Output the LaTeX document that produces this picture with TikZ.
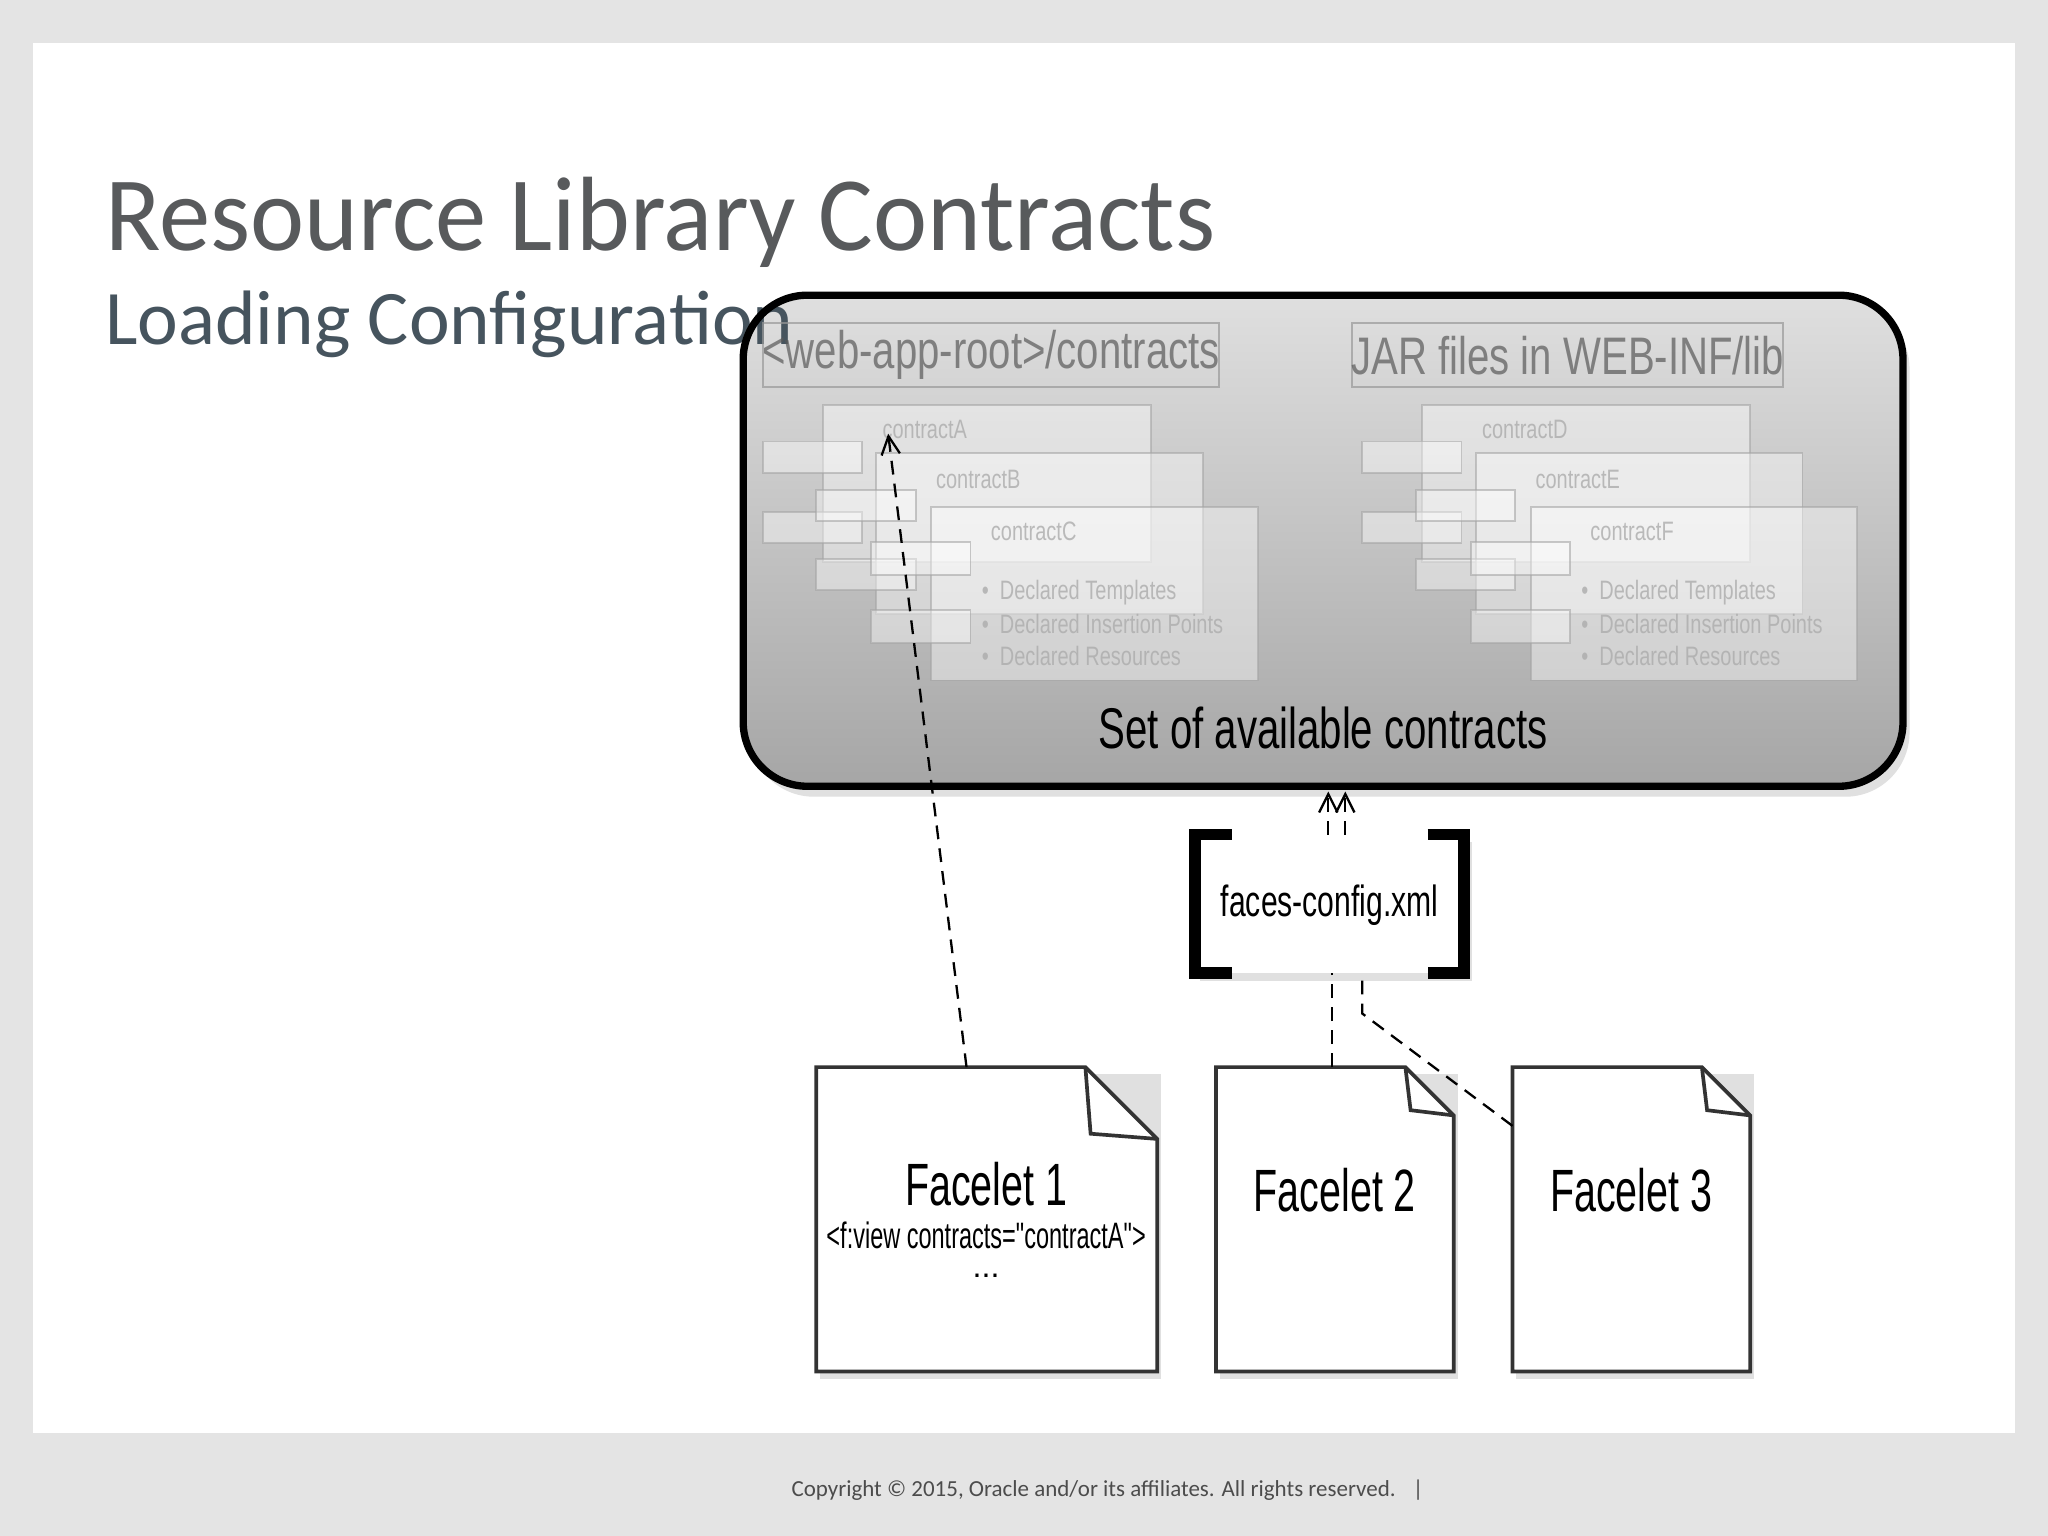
\documentclass[tikz,border=0pt]{standalone}
\usepackage{fontspec}
\usetikzlibrary{arrows.meta}
\setmainfont{Carlito}
\newfontfamily\ar{Liberation Sans}
\newcommand{\nar}[2][0.75]{\scalebox{#1}[1]{#2}}
\definecolor{subc}{RGB}{70,84,94}
\definecolor{titc}{RGB}{88,90,92}
\begin{document}
\begin{tikzpicture}[x=0.01cm,y=-0.01cm,
  comp/.style={draw=gray!70,fill=white,fill opacity=0.4,draw opacity=0.6},
  small/.style={draw=gray!70,fill=white,fill opacity=0.4,draw opacity=0.6},
  ctxt/.style={text=gray!65,text opacity=0.8,font=\ar\fontsize{5.8pt}{6pt}\selectfont,anchor=west,inner sep=0},
  doc/.style={draw=black!80,fill=white,line width=0.8pt},
  dsh/.style={line width=0.5pt,dash pattern=on 3pt off 2pt},
  arr/.style={dsh,-{Straight Barb[length=4pt,width=4pt]}}]
\useasboundingbox (0,0) rectangle (1568,1176);
\fill[black!5!gray!20] (0,0) rectangle (1568,1176);
\fill[white] (25,33) rectangle (1543,1097);
\node[anchor=base west,text=titc,font=\fontsize{23pt}{26pt}\selectfont,inner sep=0] (t) at (80,192) {\scalebox{0.97}[1]{Resource Library Contracts}};
\node[text=black!70,font=\fontsize{5pt}{6pt}\selectfont,inner sep=0] (cp) at (848,1141) {Copyright © 2015, Oracle and/or its affiliates. All rights reserved. \ \ |};
% main box
\fill[black!12,rounded corners=14pt] (574,233) rectangle (1462,610);
\shade[top color=gray!25,bottom color=gray!70,rounded corners=14pt] (569,226) rectangle (1457,602);
\node[anchor=base west,text=subc,font=\fontsize{16.8pt}{21pt}\selectfont,inner sep=0] (st) at (80,264) {Loading Configuration};
\draw[line width=1.6pt,rounded corners=14pt] (569,226) rectangle (1457,602);
\foreach \dx/\a/\b/\c/\hd/\hx/\hw in {0/A/B/C/{<web-app-root>/contracts}/584/349, 459/D/E/F/{JAR files in WEB-INF/lib}/1035/330}{
  \draw[draw=gray!80,draw opacity=0.7] (\hx,247) rectangle +(\hw,49);
  \node[anchor=west,inner sep=0,text=gray!70!black,text opacity=0.7,font=\ar\fontsize{11.5pt}{13pt}\selectfont] at (\hx-1,272) {\nar[0.76]{\hd}};
  \begin{scope}[xshift=\dx*0.01cm]
  \draw[comp] (630,310) rectangle (881,430);
  \node[ctxt] at (675,329) {\nar{contract\a}};
  \draw[small] (584,338) rectangle (660,362);
  \draw[small] (584,392) rectangle (660,416);
  \draw[comp] (671,347) rectangle (921,470);
  \node[ctxt] at (716,367) {\nar{contract\b}};
  \draw[small] (625,375) rectangle (701,399);
  \draw[small] (625,428) rectangle (701,452);
  \draw[comp] (713,388) rectangle (963,521);
  \node[ctxt] at (758,407) {\nar{contract\c}};
  \draw[small] (667,415) rectangle (743,440);
  \draw[small] (667,467) rectangle (743,492);
  \foreach \y/\t in {454/Declared Templates,478/Declared Insertion Points,502/Declared Resources}
    \node[ctxt] at (751,\y) {\nar{\textbullet\ \ \t}};
  \end{scope}}
\coordinate (cA) at (680,332);
\node[font=\ar\fontsize{12.5pt}{14pt}\selectfont] (set) at (1013,557) {\nar[0.70]{Set of available contracts}};
% faces-config
\fill[black!12] (919,645) rectangle (1127,751);
\fill[white] (915,639) rectangle (1121,745);
\draw[line width=2.5pt] (943,639) -- (915,639) -- (915,745) -- (943,745);
\draw[line width=2.5pt] (1093,639) -- (1121,639) -- (1121,745) -- (1093,745);
\node[font=\ar\fontsize{9.5pt}{10pt}\selectfont] (fct) at (1018,693) {\nar[0.69]{faces-config.xml}};
% facelets
\foreach \n/\xa/\xb/\c in {1/625/886/55,2/931/1113/37,3/1158/1340/37}{
  \fill[black!12] (\xa+3,822) rectangle (\xb+3,1056);
  \draw[doc] (\xa,817) -- (\xb-\c,817) -- (\xb,817+\c) -- (\xb,1050) -- (\xa,1050) -- cycle;
  \draw[doc,fill=none] (\xb-\c,817) -- (\xb-\c+4,817+\c-4) -- (\xb,817+\c);
}
\node[font=\ar\fontsize{13pt}{14pt}\selectfont] (f1) at (755,907) {\nar[0.66]{Facelet 1}};
\node[font=\ar\fontsize{8pt}{9pt}\selectfont] (f1a) at (755,946) {\nar[0.64]{<f:view contracts="contractA">}};
\node[font=\ar\fontsize{7pt}{9pt}\selectfont] (f1b) at (755,977) {...};
\node[font=\ar\fontsize{13pt}{14pt}\selectfont] (f2) at (1022,911) {\nar[0.66]{Facelet 2}};
\node[font=\ar\fontsize{13pt}{14pt}\selectfont] (f3) at (1249,911) {\nar[0.66]{Facelet 3}};
\coordinate (p1) at (740,817);
\draw[arr] (p1) -- (cA);
\draw[arr] (1017,639) -- (1017,606);
\draw[arr] (1030,639) -- (1030,606);
\draw[dsh] (1020,817) -- (1020,745);
\draw[dsh] (1158,862) -- (1043,776) -- (1043,745);
\end{tikzpicture}
\end{document}
